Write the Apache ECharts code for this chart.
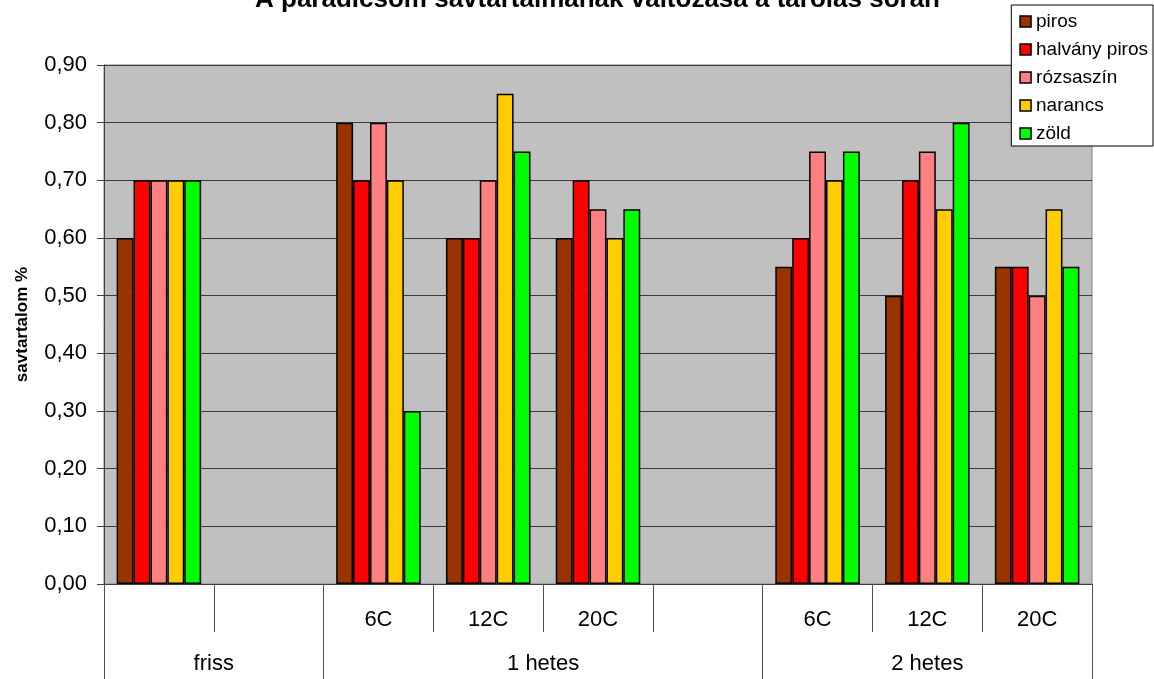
<!DOCTYPE html>
<html>
<head>
<meta charset="utf-8">
<script src="https://cdn.jsdelivr.net/npm/echarts@6/dist/echarts.min.js"></script>
<style>
  html, body { margin: 0; padding: 0; background: #fff; }
  #chart { width: 1154px; height: 679px; }
</style>
</head>
<body>
<div id="chart"></div>
<script>
// Storage temperature per slot (first label row); blank slots stay empty
const subLabels = ['', '', '6C', '12C', '20C', '', '6C', '12C', '20C'];
// Storage period groups (second label row) and how many slots each spans
const groupLabels = ['friss', '1 hetes', '2 hetes'];
const groupSpans = [2, 4, 3];

const seriesNames = ['piros', 'halvány piros', 'rózsaszín', 'narancs', 'zöld'];
const seriesColors = ['#993300', '#FF0000', '#FF8080', '#FFCC00', '#00FF00'];

const piros        = [0.60, null, 0.80, 0.60, 0.60, null, 0.55, 0.50, 0.55];
const halvanyPiros = [0.70, null, 0.70, 0.60, 0.70, null, 0.60, 0.70, 0.55];
const rozsaszin    = [0.70, null, 0.80, 0.70, 0.65, null, 0.75, 0.75, 0.50];
const narancs      = [0.70, null, 0.70, 0.85, 0.60, null, 0.70, 0.65, 0.65];
const zold         = [0.70, null, 0.30, 0.75, 0.65, null, 0.75, 0.80, 0.55];

const yTicks = { min: 0, max: 0.9, interval: 0.1 };

const seriesData = [piros, halvanyPiros, rozsaszin, narancs, zold];

// Second label row: half-slot points, group label centred on its span,
// long ticks at the group boundaries
const halfPoints = subLabels.length * 2 + 1;
const groupRow = new Array(halfPoints).fill('');
const groupEdges = [0];
let start = 0;
groupSpans.forEach((span, i) => {
  groupRow[start * 2 + span] = groupLabels[i];
  start += span;
  groupEdges.push(start * 2);
});

const font = 'Liberation Sans, Arial, sans-serif';
const chart = echarts.init(document.getElementById('chart'));

chart.setOption({
  animation: false,
  backgroundColor: '#ffffff',
  title: {
    text: 'A paradicsom savtartalmának változása a tárolás során',
    left: 250,
    top: -18,
    textStyle: { fontFamily: font, fontSize: 26, fontWeight: 'bold', color: '#000' }
  },
  legend: {
    orient: 'vertical',
    right: 1,
    top: 5,
    data: seriesNames,
    icon: 'rect',
    itemWidth: 11,
    itemHeight: 11,
    itemGap: 9,
    padding: [7, 5, 3, 8],
    backgroundColor: '#ffffff',
    borderColor: '#000000',
    borderWidth: 1,
    textStyle: { fontFamily: font, fontSize: 19, color: '#000', lineHeight: 18 },
    itemStyle: { borderColor: '#000', borderWidth: 1.5 }
  },
  grid: {
    left: 104,
    right: 62,
    top: 65,
    bottom: 95,
    show: true,
    backgroundColor: '#C0C0C0',
    borderColor: '#808080',
    borderWidth: 1,
    containLabel: false,
    outerBoundsMode: 'none'
  },
  xAxis: [
    {
      type: 'category',
      data: subLabels,
      boundaryGap: true,
      axisLine: { show: true, lineStyle: { color: '#404040', width: 1 } },
      axisTick: { show: true, alignWithLabel: false, length: 48, lineStyle: { color: '#505050' } },
      axisLabel: { interval: 0, margin: 25, fontFamily: font, fontSize: 22, color: '#000' },
      splitLine: { show: false }
    },
    {
      type: 'category',
      position: 'bottom',
      data: groupRow,
      boundaryGap: false,
      axisLine: { show: false },
      axisTick: {
        show: true,
        length: 100,
        interval: (idx) => groupEdges.includes(idx),
        lineStyle: { color: '#505050' }
      },
      axisLabel: { interval: 0, margin: 69, fontFamily: font, fontSize: 22, color: '#000' },
      splitLine: { show: false }
    }
  ],
  yAxis: {
    type: 'value',
    min: yTicks.min,
    max: yTicks.max,
    interval: yTicks.interval,
    name: 'savtartalom %',
    nameLocation: 'middle',
    nameRotate: 90,
    nameGap: 73,
    nameTextStyle: { fontFamily: font, fontSize: 17, fontWeight: 'bold', color: '#000' },
    axisLine: { show: true, lineStyle: { color: '#404040', width: 1 } },
    axisTick: { show: true, inside: false, length: 7, lineStyle: { color: '#404040' } },
    axisLabel: {
      margin: 17,
      fontFamily: font,
      fontSize: 22,
      color: '#000',
      formatter: (v) => v.toFixed(2).replace('.', ',')
    },
    splitLine: { show: true, lineStyle: { color: '#3a3a3a', width: 1 } }
  },
  series: seriesNames.map((name, i) => ({
    name: name,
    type: 'bar',
    xAxisIndex: 0,
    data: seriesData[i],
    barGap: '0%',
    barCategoryGap: '23%',
    itemStyle: { color: seriesColors[i], borderColor: '#000', borderWidth: 1.5 }
  }))
});
</script>
</body>
</html>
